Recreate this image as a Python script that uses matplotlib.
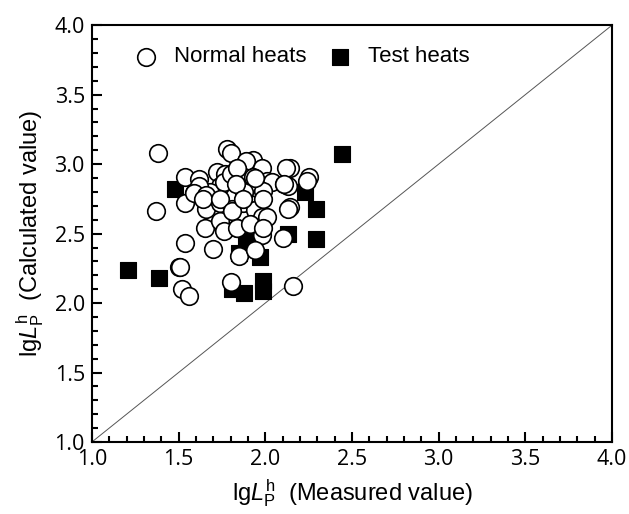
import matplotlib.pyplot as plt
import numpy as np

plt.rcParams['mathtext.fontset'] = 'custom'
plt.rcParams['mathtext.rm'] = 'Liberation Sans'
plt.rcParams['mathtext.it'] = 'Liberation Sans:italic'

# Normal heats (open circles): measured, calculated
normal_x = [1.38, 1.78, 1.80, 1.93, 1.89, 1.98, 2.14, 2.25, 2.24, 1.83,
            1.72, 1.77, 1.54, 1.62, 1.59, 1.64, 1.74, 1.82, 1.88, 1.93,
            2.01, 2.04, 2.11, 2.13, 1.68, 1.88, 1.95, 1.99, 1.54, 1.66,
            1.74, 1.81, 1.87, 1.94, 1.98, 2.14, 1.37, 1.65, 1.74, 1.84,
            1.91, 1.98, 1.98, 1.54, 1.70, 1.85, 1.94, 2.10, 1.50, 1.51,
            1.52, 1.56, 1.80, 2.16, 1.62, 1.76, 1.80, 1.59, 1.66, 1.84,
            1.94, 1.88, 2.12, 2.11, 1.83, 1.64, 1.74, 1.81, 2.01, 1.76,
            1.84, 1.91, 1.99, 2.13, 1.87, 1.99]
normal_y = [3.08, 3.11, 3.08, 3.03, 3.02, 2.97, 2.97, 2.91, 2.88, 2.96,
            2.94, 2.93, 2.91, 2.89, 2.79, 2.79, 2.84, 2.87, 2.91, 2.91,
            2.88, 2.87, 2.86, 2.84, 2.80, 2.79, 2.83, 2.81, 2.72, 2.68,
            2.72, 2.68, 2.72, 2.67, 2.62, 2.69, 2.66, 2.54, 2.59, 2.54,
            2.56, 2.53, 2.49, 2.43, 2.39, 2.34, 2.38, 2.47, 2.26, 2.26,
            2.10, 2.05, 2.15, 2.12, 2.84, 2.87, 2.93, 2.79, 2.78, 2.97,
            2.90, 2.80, 2.97, 2.86, 2.86, 2.75, 2.75, 2.66, 2.62, 2.52,
            2.54, 2.57, 2.54, 2.68, 2.75, 2.75]

# Test heats (filled squares)
test_x = [1.21, 1.39, 1.48, 1.81, 1.88, 1.99, 1.99, 1.85, 1.97, 1.89,
          2.13, 2.23, 2.29, 2.29, 2.44]
test_y = [2.24, 2.18, 2.82, 2.10, 2.07, 2.16, 2.09, 2.36, 2.33, 2.44,
          2.50, 2.80, 2.68, 2.46, 3.07]

fig = plt.figure(figsize=(6.29, 5.14), dpi=100)
ax = fig.add_axes([0.146, 0.140, 0.827, 0.811])

ax.plot([1, 4], [1, 4], color='#555555', lw=0.7, zorder=1)
ax.scatter(test_x, test_y, marker='s', s=135, c='black', edgecolors='black',
           linewidths=0.8, zorder=2, label='Test heats')
ax.scatter(normal_x, normal_y, marker='o', s=160, facecolors='white',
           edgecolors='black', linewidths=1.2, zorder=3, label='Normal heats')

ax.set_xlim(1.0, 4.0)
ax.set_ylim(1.0, 4.0)
ticks = np.arange(1.0, 4.01, 0.5)
ax.set_xticks(ticks)
ax.set_yticks(ticks)
ax.set_xticks(np.arange(1.0, 4.01, 0.1), minor=True)
ax.set_yticks(np.arange(1.0, 4.01, 0.1), minor=True)
ax.set_xticklabels(['%.1f' % t for t in ticks], fontfamily='Open Sans', fontsize=15.5)
ax.set_yticklabels(['%.1f' % t for t in ticks], fontfamily='Open Sans', fontsize=15.5)
ax.tick_params(which='major', direction='in', length=7, width=1.5, pad=5)
ax.tick_params(which='minor', direction='in', length=4.5, width=1.5)
for s in ax.spines.values():
    s.set_linewidth(1.5)

ax.set_xlabel(r'lg$\mathit{L}_{\rm P}^{\rm h}$  (Measured value)',
              fontfamily='Liberation Sans', fontsize=17, labelpad=5)
ax.set_ylabel(r'lg$\mathit{L}_{\rm P}^{\rm h}$  (Calculated value)',
              fontfamily='Liberation Sans', fontsize=17, labelpad=6)

handles, labels = ax.get_legend_handles_labels()
ax.legend(handles[::-1], labels[::-1], loc='upper left', ncol=2, frameon=False,
          prop={'family': 'Liberation Sans', 'size': 16},
          bbox_to_anchor=(0.045, 0.997), handletextpad=0.75, columnspacing=1.0,
          handlelength=1.0, markerscale=1.0)

fig.savefig('out.png', dpi=100)
